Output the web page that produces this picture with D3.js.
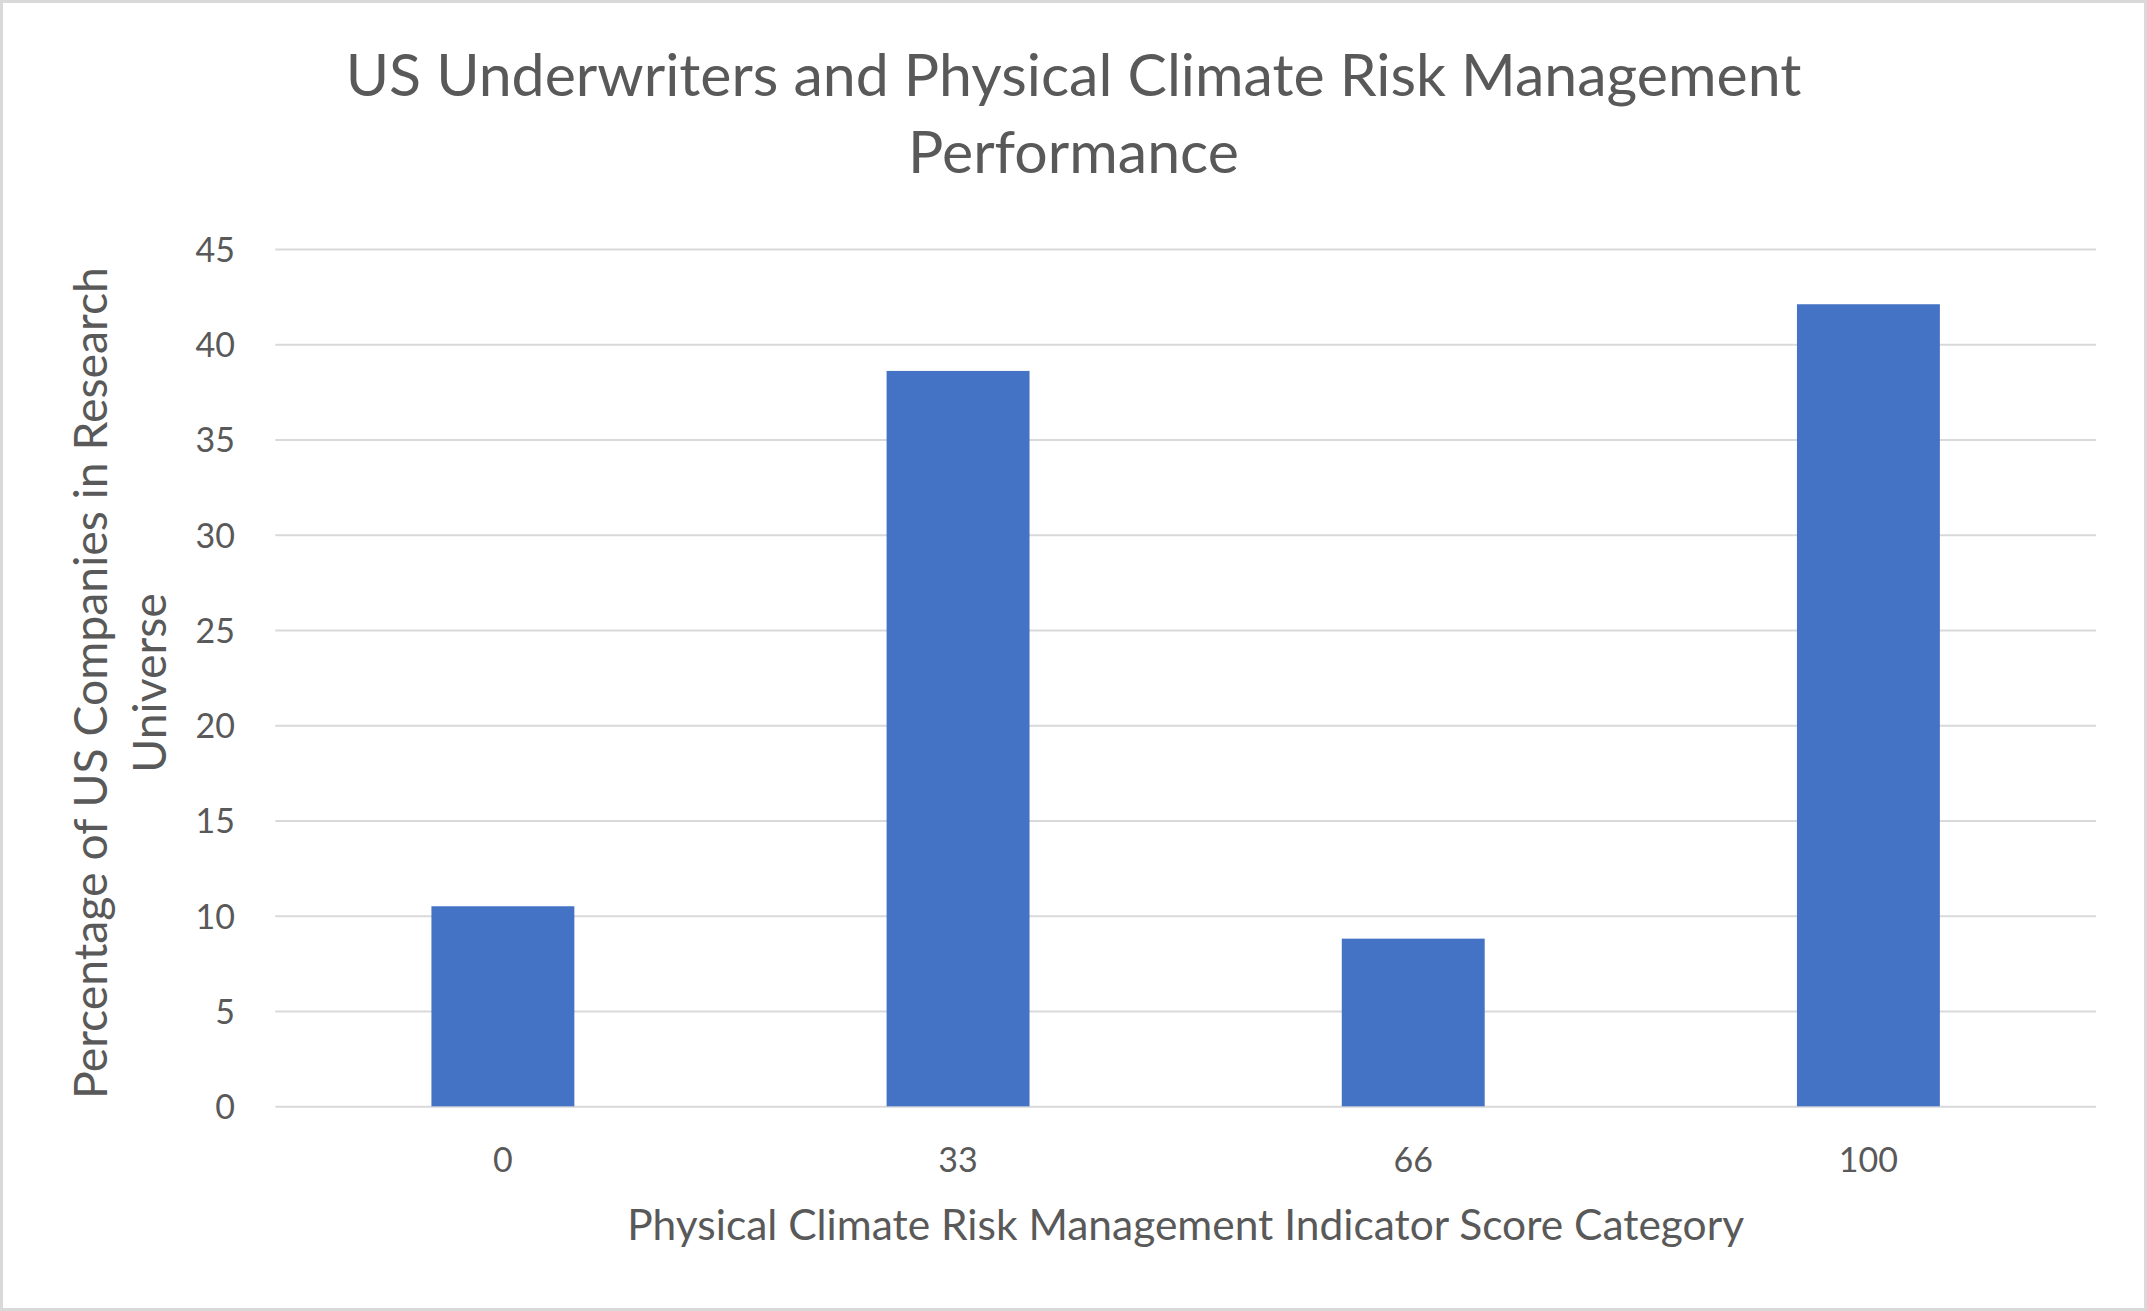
<!DOCTYPE html>
<html><head><meta charset="utf-8">
<script src="https://cdn.jsdelivr.net/npm/d3@7"></script>
<style>html,body{margin:0;padding:0;background:#fff;}svg{display:block;}</style>
</head><body>
<script>
const categories = ["0", "33", "66", "100"];
const values = [10.5, 38.6, 8.8, 42.1];
const yTicks = [0, 5, 10, 15, 20, 25, 30, 35, 40, 45];
const titleLines = ["US Underwriters and Physical Climate Risk Management", "Performance"];
const xTitle = "Physical Climate Risk Management Indicator Score Category";
const yTitleLines = ["Percentage of US Companies in Research", "Universe"];

(function () {
const W = 2147, H = 1311;
const FONT = "Lato, 'Open Sans', sans-serif";
const TXT = "#595959";
const svg = d3.select("body").append("svg").attr("width", W).attr("height", H);
svg.append("rect").attr("x", 1.5).attr("y", 1.5).attr("width", W - 3).attr("height", H - 3)
  .attr("fill", "#fff").attr("stroke", "#d9d9d9").attr("stroke-width", 3);

const pL = 275.3, pR = 2096, pT = 249, pB = 1106.3;
const x = d3.scaleBand().domain(categories).range([pL, pR]).paddingInner(0.686).paddingOuter(0.343);
const y = d3.scaleLinear().domain([0, 45]).range([pB, pT]);

function fit(sel, target) {
  const n = sel.node();
  const fs = parseFloat(sel.attr("font-size"));
  const w = n.getComputedTextLength();
  if (w > 0) sel.attr("font-size", fs * target / w);
}

// gridlines + y labels
const yAxis = d3.axisLeft(y).tickValues(yTicks).tickSize(-(pR - pL)).tickPadding(40);
const gy = svg.append("g").attr("transform", `translate(${pL},0)`).call(yAxis);
gy.select(".domain").remove();
gy.selectAll(".tick line").attr("stroke", "#d9d9d9").attr("stroke-width", 2);
gy.selectAll(".tick text").attr("fill", TXT).attr("font-family", FONT).attr("font-size", 34)
  .attr("x", 235 - pL).attr("dy", "0.36em").attr("text-anchor", "end");

// bars
svg.append("g").selectAll("rect").data(values).join("rect")
  .attr("x", (d, i) => x(categories[i]))
  .attr("width", x.bandwidth())
  .attr("y", d => y(d))
  .attr("height", d => y(0) - y(d))
  .attr("fill", "#4472c4");

// x axis labels
const xAxis = d3.axisBottom(x).tickSize(0).tickPadding(0);
const gx = svg.append("g").attr("transform", `translate(0,${pB})`).call(xAxis);
gx.select(".domain").remove();
gx.selectAll(".tick text").attr("fill", TXT).attr("font-family", FONT).attr("font-size", 34)
  .attr("y", 1171.7 - pB).attr("dy", 0);

// title
const t1 = svg.append("text").attr("x", W / 2).attr("y", 95.7)
  .attr("text-anchor", "middle").attr("fill", TXT).attr("font-family", FONT)
  .attr("font-size", 54).text(titleLines[0]);
fit(t1, 1456);
svg.append("text").attr("x", W / 2).attr("y", 173.3)
  .attr("text-anchor", "middle").attr("fill", TXT).attr("font-family", FONT)
  .attr("font-size", t1.attr("font-size")).text(titleLines[1]);

// x title
const xt = svg.append("text").attr("x", (pL + pR) / 2).attr("y", 1240)
  .attr("text-anchor", "middle").attr("fill", TXT).attr("font-family", FONT)
  .attr("font-size", 40).text(xTitle);
fit(xt, 1117);

// y title
const yg = svg.append("g").attr("transform", "translate(0,683) rotate(-90)");
const yt1 = yg.append("text").attr("x", 0).attr("y", 107).attr("text-anchor", "middle")
  .attr("fill", TXT).attr("font-family", FONT).attr("font-size", 40).text(yTitleLines[0]);
fit(yt1, 832);
yg.append("text").attr("x", 0).attr("y", 166).attr("text-anchor", "middle")
  .attr("fill", TXT).attr("font-family", FONT).attr("font-size", yt1.attr("font-size")).text(yTitleLines[1]);
})();
</script>
</body></html>
